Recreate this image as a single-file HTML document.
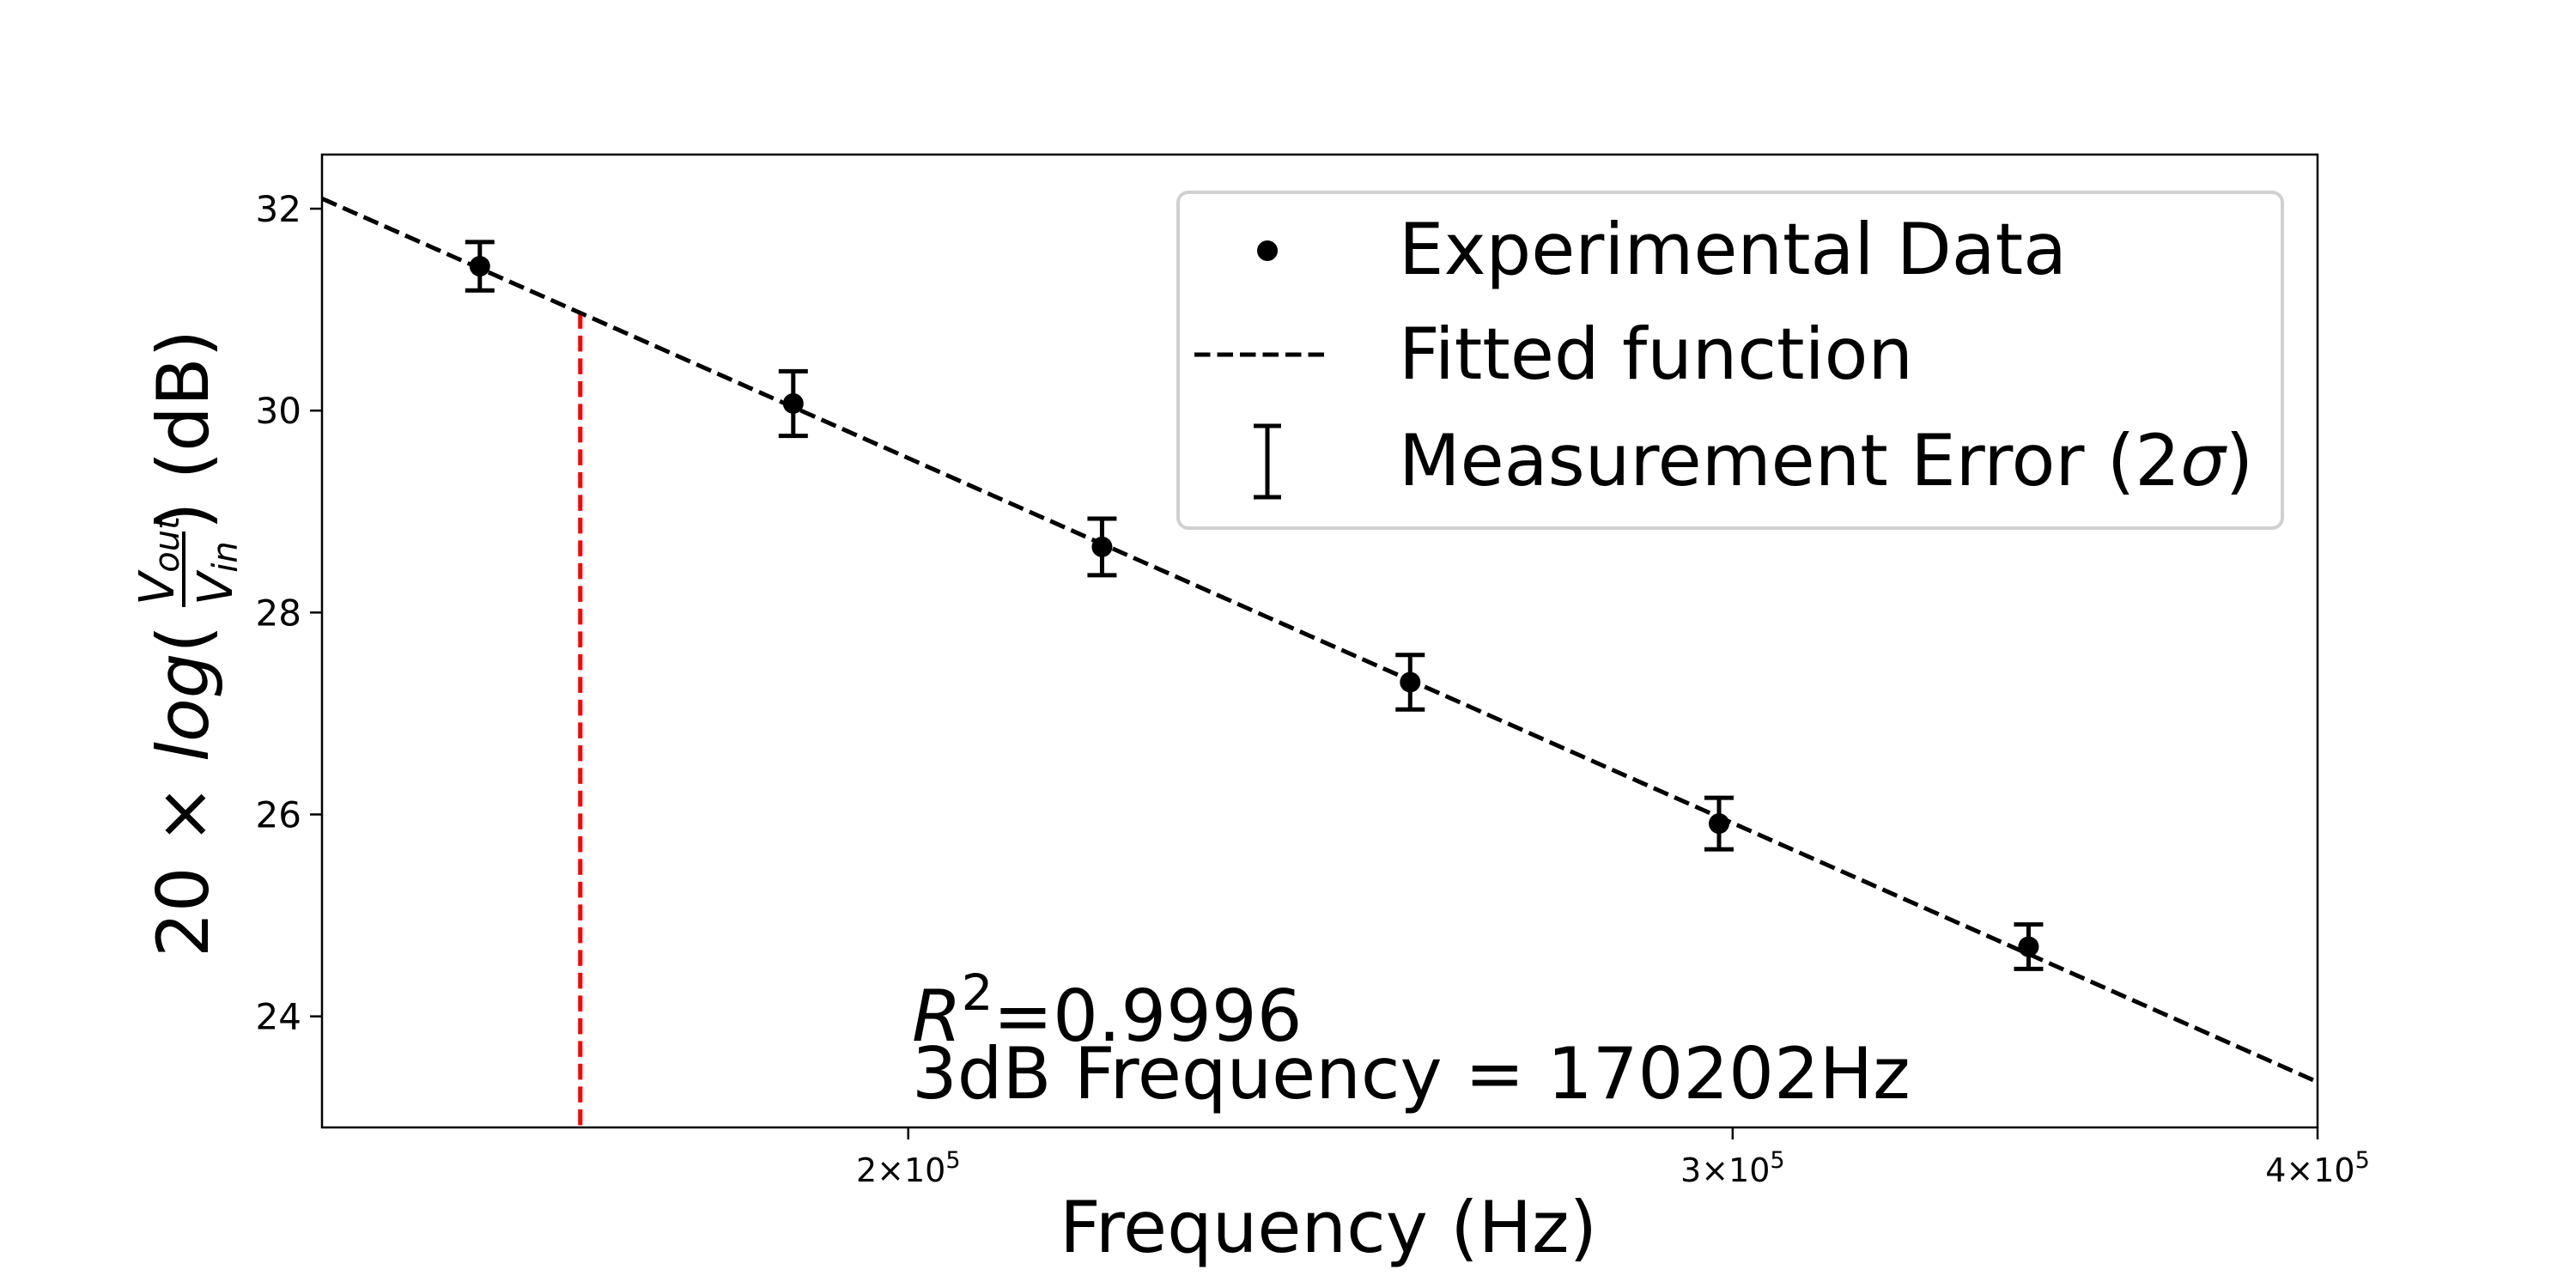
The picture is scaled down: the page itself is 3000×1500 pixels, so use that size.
<!DOCTYPE html>
<html><head><meta charset="utf-8"><style>
html,body{margin:0;padding:0;background:#fff;}
svg{display:block;font-family:"DejaVu Sans","Liberation Sans",sans-serif;}
</style></head><body>
<svg id="chart" width="3000" height="1500" viewBox="0 0 3000 1500" xmlns="http://www.w3.org/2000/svg">
<rect width="3000" height="1500" fill="#fff"/>
<g id="plot"></g>
</svg>
<script>
const freqs = [162000, 189000, 220000, 256000, 298000, 347000];
const gains = [31.43, 30.07, 28.65, 27.31, 25.91, 24.69];
const errs = [0.24, 0.32, 0.28, 0.27, 0.255, 0.22];
const yTicks = [24, 26, 28, 30, 32];
const xTicks = [200000, 300000, 400000];
const xTickMant = ["2", "3", "4"];
const fitAt = [32.10, 23.35]; // fit values at x-axis limits
const f3dB = [170202];

const L=375,R=2699,T=180,B=1313;
const xMin=149900,xMax=400000,yMin=22.9,yMax=32.536;
const ns="http://www.w3.org/2000/svg";
const g=document.getElementById('plot');
function X(f){return L+(Math.log10(f)-Math.log10(xMin))/(Math.log10(xMax)-Math.log10(xMin))*(R-L);}
function Y(v){return B-(v-yMin)/(yMax-yMin)*(B-T);}
function fit(f){const t=(Math.log10(f)-Math.log10(xMin))/(Math.log10(xMax)-Math.log10(xMin));return fitAt[0]+t*(fitAt[1]-fitAt[0]);}
function mk(tag,attrs,parent){const e=document.createElementNS(ns,tag);for(const k in attrs)e.setAttribute(k,attrs[k]);(parent||g).appendChild(e);return e;}

const defs=mk('defs',{});const cp=mk('clipPath',{id:'clip'},defs);mk('rect',{x:L,y:T,width:R-L,height:B-T},cp);
const inner=mk('g',{'clip-path':'url(#clip)'});

const red=mk('line',{x1:X(f3dB[0]),x2:X(f3dB[0]),y1:Y(fit(f3dB[0])),y2:B,stroke:'#ff0000','stroke-width':5,'stroke-dasharray':'18.5,8'},inner);



const fl=mk('line',{x1:X(xMin),y1:Y(fit(xMin)),x2:X(xMax),y2:Y(fit(xMax)),stroke:'#000','stroke-width':5,'stroke-dasharray':'18.5,8'},inner);



for(let i=0;i<freqs.length;i++){
  const x=X(freqs[i]),y=Y(gains[i]),y1=Y(gains[i]+errs[i]),y2=Y(gains[i]-errs[i]);
  const eg=mk('g',{},inner);
  
  
  mk('line',{x1:x,x2:x,y1:y1,y2:y2,stroke:'#000','stroke-width':5},eg);
  mk('line',{x1:x-17,x2:x+17,y1:y1,y2:y1,stroke:'#000','stroke-width':5},eg);
  mk('line',{x1:x-17,x2:x+17,y1:y2,y2:y2,stroke:'#000','stroke-width':5},eg);
  const c=mk('circle',{cx:x,cy:y,r:12,fill:'#000'},inner);
  
  
}

const fr=mk('rect',{x:L,y:T,width:R-L,height:B-T,fill:'none',stroke:'#000','stroke-width':2.5});



for(const v of yTicks){
  const y=Y(v);
  mk('line',{x1:L-14,x2:L,y1:y,y2:y,stroke:'#000','stroke-width':2.5});
  const t=mk('text',{x:L-24,y:y+15,'text-anchor':'end','font-size':42});
  t.textContent=v;
  
  
}
for(let i=0;i<xTicks.length;i++){
  const x=X(xTicks[i]);
  mk('line',{x1:x,x2:x,y1:B,y2:B+14,stroke:'#000','stroke-width':2.5});
  const t=mk('text',{x:x,y:B+63,'text-anchor':'middle','font-size':38});
  t.innerHTML=xTickMant[i]+'\u00d710<tspan font-size="27" dy="-16">5</tspan>';
  
  
}
</script>
<svg style="position:absolute;left:0;top:0" width="3000" height="1500" viewBox="0 0 3000 1500" xmlns="http://www.w3.org/2000/svg">
<text x="1547" y="1458" text-anchor="middle" font-size="83" font-family="DejaVu Sans, Liberation Sans, sans-serif">Frequency (Hz)</text>
<g transform="translate(242,745) rotate(-90)" font-family="DejaVu Sans, Liberation Sans, sans-serif">
<text x="-370" y="0" font-size="83">20 × <tspan font-style="italic">log</tspan>(</text>
<line x1="38" x2="126" y1="-28" y2="-28" stroke="#000" stroke-width="4"/>
<text x="40" y="-40" font-size="56" font-style="italic">V<tspan font-size="40" dy="6">out</tspan></text>
<text x="40" y="28" font-size="56" font-style="italic">V<tspan font-size="40" dy="6">in</tspan></text>
<text x="128" y="0" font-size="83">) (dB)</text>
</g>
<text x="1062" y="1212" font-size="83" font-family="DejaVu Sans, Liberation Sans, sans-serif"><tspan font-style="italic">R</tspan><tspan font-size="58" dy="-36">2</tspan><tspan dy="36">=0.9996</tspan></text>
<text x="1062" y="1279" font-size="83" font-family="DejaVu Sans, Liberation Sans, sans-serif">3dB Frequency = 170202Hz</text>
<g font-family="DejaVu Sans, Liberation Sans, sans-serif" font-size="83">
<rect x="1372" y="224" width="1286" height="391" rx="12" fill="#fff" fill-opacity="0.8" stroke="#d0d0d0" stroke-width="4"/>
<circle cx="1476" cy="292" r="12" fill="#000"/>
<text x="1629" y="319">Experimental Data</text>
<line x1="1391" x2="1548" y1="413" y2="413" stroke="#000" stroke-width="5" stroke-dasharray="18.5,8"/>
<text x="1629" y="441">Fitted function</text>
<g stroke="#000" stroke-width="5">
<line x1="1476" x2="1476" y1="496" y2="579"/><line x1="1460" x2="1492" y1="496" y2="496"/><line x1="1460" x2="1492" y1="579" y2="579"/>
</g>
<text x="1629" y="565">Measurement Error (2<tspan font-style="italic">σ</tspan>)</text>
</g>
</svg>
</body></html>
